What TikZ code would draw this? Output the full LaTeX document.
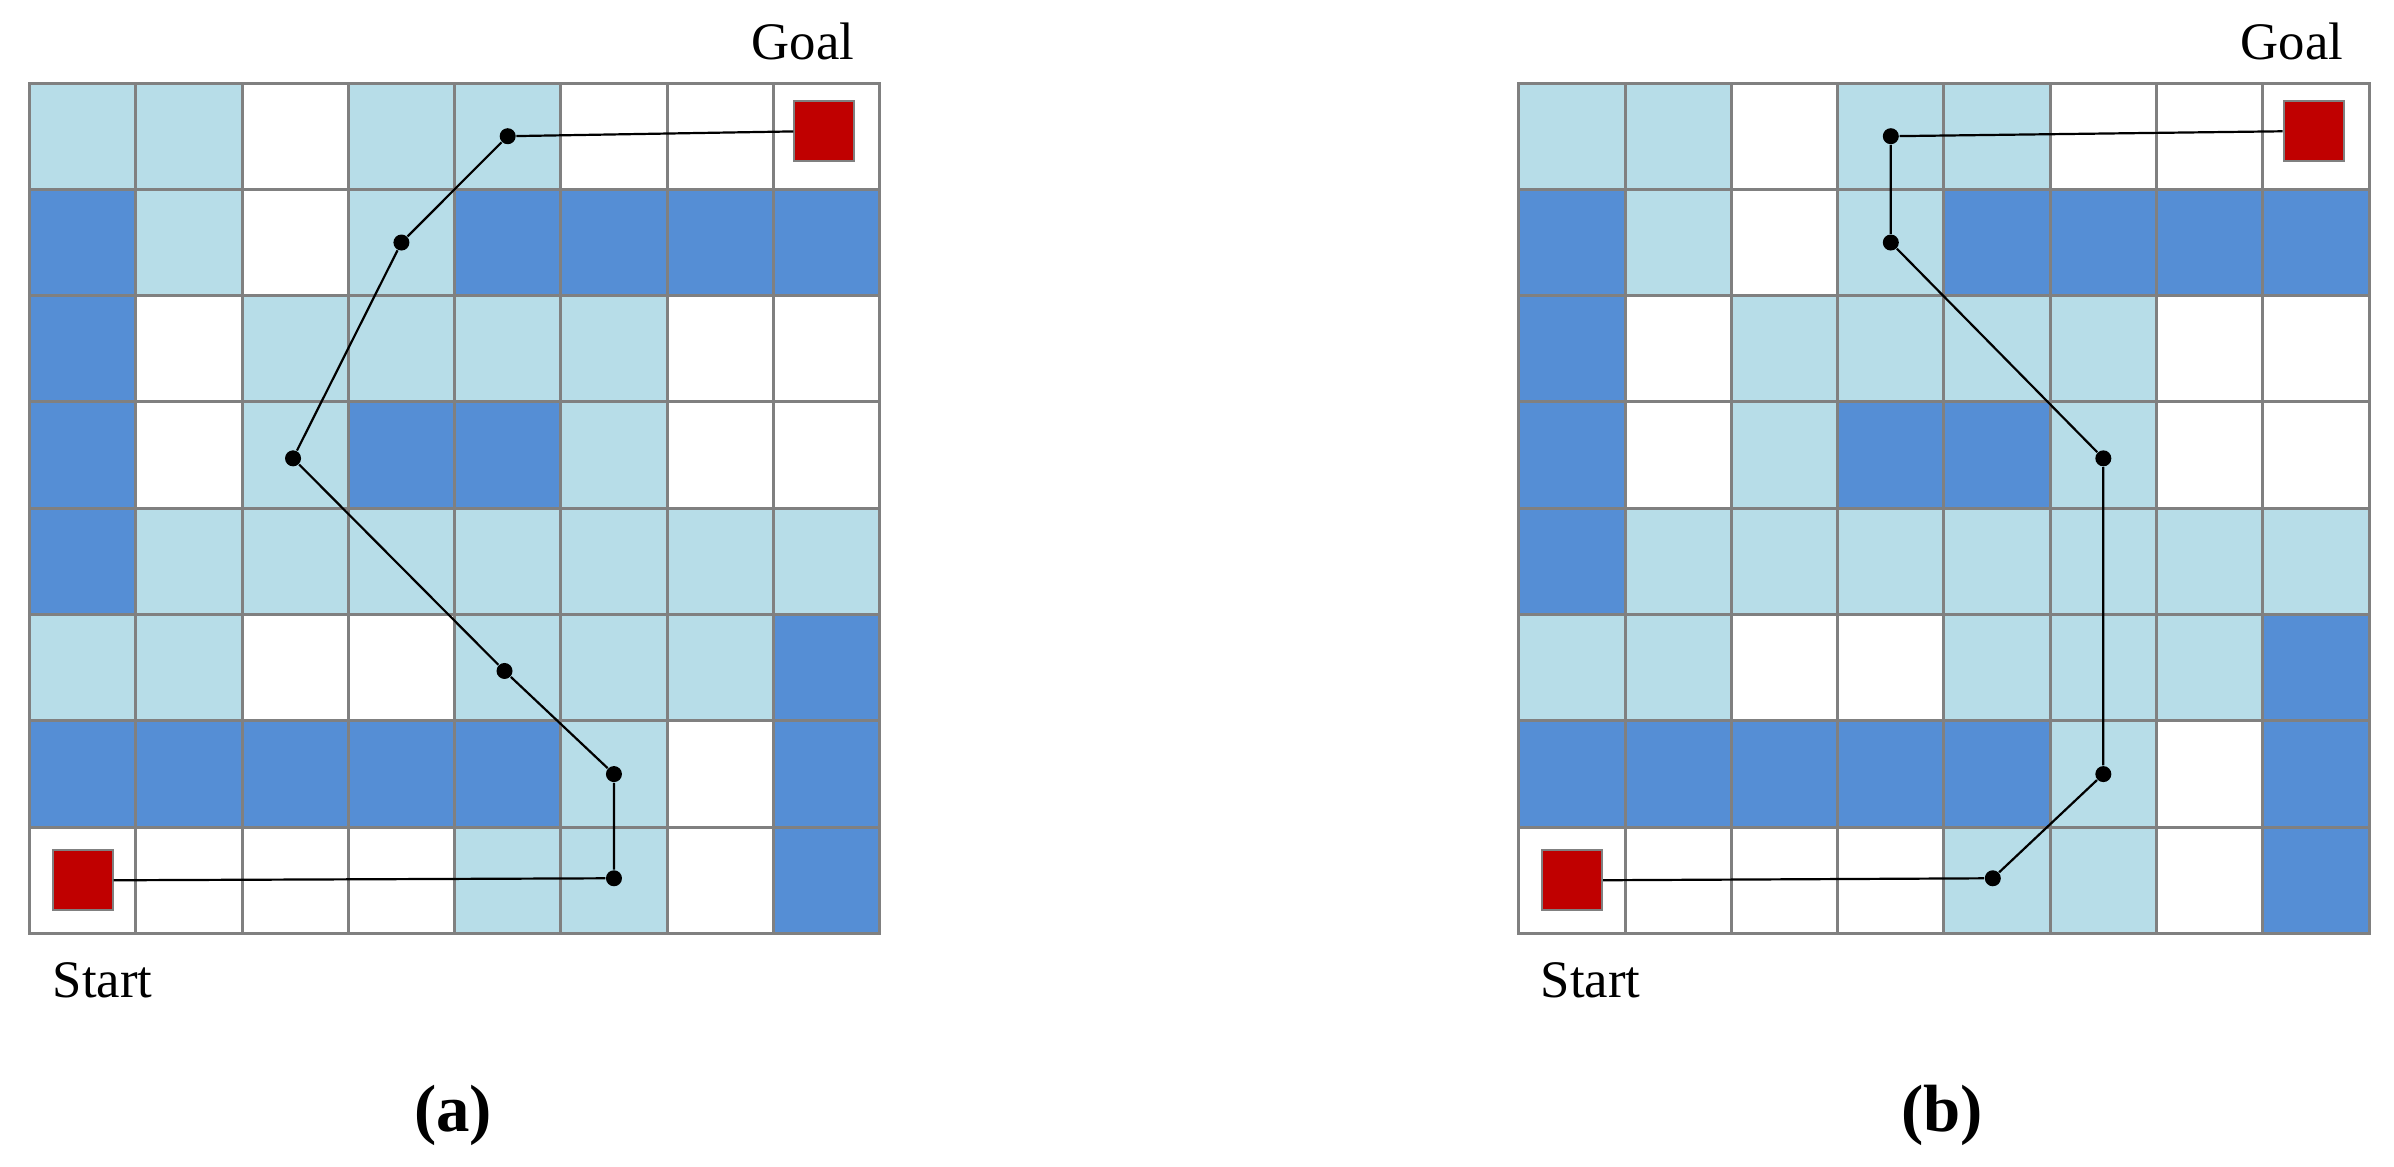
\documentclass[tikz,border=0pt]{standalone}
\usepackage{fontspec}
\setmainfont{LiberationSerif}[Extension=.ttf, UprightFont=*-Regular, BoldFont=*-Bold]
\definecolor{cL}{HTML}{B7DDE8}
\definecolor{cD}{HTML}{558ED5}
\definecolor{cW}{HTML}{FFFFFF}
\definecolor{gridgray}{HTML}{808080}
\definecolor{goalred}{HTML}{C00000}
\tikzset{
  cellbox/.style={draw=gridgray, line width=0.03cm},
  dot/.style={circle, fill=black, inner sep=0pt, minimum size=0.16cm},
  endbox/.style={rectangle, fill=goalred, draw=gridgray, line width=0.02cm, minimum size=0.6cm, inner sep=0pt},
  pathline/.style={black, line width=0.022cm},
  lbl/.style={inner sep=0pt, font=\rmfamily\fontsize{15}{18}\selectfont},
  sublbl/.style={inner sep=0pt, font=\rmfamily\fontsize{19}{22}\selectfont\bfseries},
}
\begin{document}
\begin{tikzpicture}[x=0.01cm, y=-0.01cm]
\useasboundingbox (0,0) rectangle (2394,1166);
\fill[white] (0,0) rectangle (2394,1166);
% grids
\foreach \gx in {0.295,15.18} {
  \begin{scope}[shift={(\gx cm,-0.83cm)}, x=1.062cm, y=-1.0625cm]
    \foreach \r/\cols in {
      0/{cL,cL,cW,cL,cL,cW,cW,cW},
      1/{cD,cL,cW,cL,cD,cD,cD,cD},
      2/{cD,cW,cL,cL,cL,cL,cW,cW},
      3/{cD,cW,cL,cD,cD,cL,cW,cW},
      4/{cD,cL,cL,cL,cL,cL,cL,cL},
      5/{cL,cL,cW,cW,cL,cL,cL,cD},
      6/{cD,cD,cD,cD,cD,cL,cW,cD},
      7/{cW,cW,cW,cW,cL,cL,cW,cD}} {
      \foreach \c [count=\i from 0] in \cols {
        \filldraw[cellbox, fill=\c] (\i,\r) rectangle ++(1,1);
      }
    }
  \end{scope}
}
% panel (a) path
\begin{scope}[shift={(0.295cm,-0.83cm)}, x=1.062cm, y=-1.0625cm]
  \node[endbox] (aG) at (7.48,0.45) {};
  \node[endbox] (aS) at (0.5,7.5) {};
  \node[dot] (a1) at (4.5,0.5) {};
  \node[dot] (a2) at (3.5,1.5) {};
  \node[dot] (a3) at (2.48,3.53) {};
  \node[dot] (a4) at (4.47,5.53) {};
  \node[dot] (a5) at (5.5,6.5) {};
  \node[dot] (a6) at (5.5,7.48) {};
  \draw[pathline] (aG) -- (a1) -- (a2) -- (a3) -- (a4) -- (a5) -- (a6) -- (aS);
\end{scope}
% panel (b) path
\begin{scope}[shift={(15.18cm,-0.83cm)}, x=1.062cm, y=-1.0625cm]
  \node[endbox] (bG) at (7.48,0.45) {};
  \node[endbox] (bS) at (0.5,7.5) {};
  \node[dot] (b1) at (3.5,0.5) {};
  \node[dot] (b2) at (3.5,1.5) {};
  \node[dot] (b3) at (5.5,3.53) {};
  \node[dot] (b4) at (5.5,6.5) {};
  \node[dot] (b5) at (4.46,7.48) {};
  \draw[pathline] (bG) -- (b1) -- (b2) -- (b3) -- (b4) -- (b5) -- (bS);
\end{scope}
% labels
\node[lbl, anchor=base west] (goalA) at (751,59) {Goal};
\node[lbl, anchor=base west] (goalB) at (2240,59) {Goal};
\node[lbl, anchor=base west] (startA) at (52,997) {Start};
\node[lbl, anchor=base west] (startB) at (1540,997) {Start};
\node[sublbl, anchor=base] (capA) at (453,1131) {(a)};
\node[sublbl, anchor=base] (capB) at (1942,1131) {(b)};
\end{tikzpicture}
\end{document}
